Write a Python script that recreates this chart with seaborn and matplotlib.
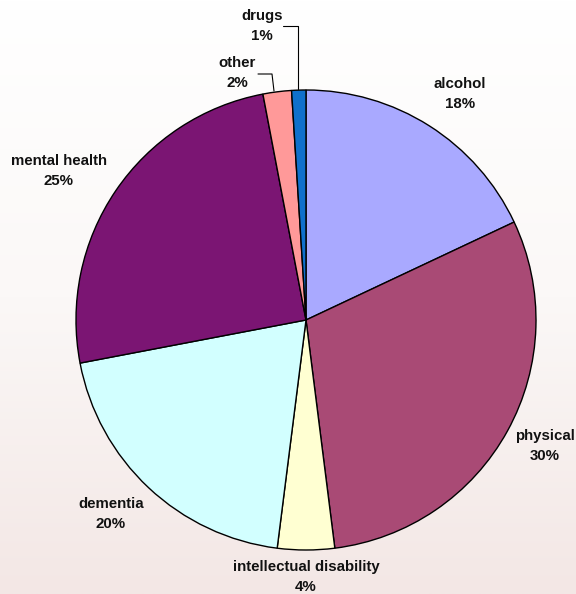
import numpy as np
import matplotlib
matplotlib.use("Agg")
import matplotlib.pyplot as plt
import seaborn as sns
from matplotlib.colors import LinearSegmentedColormap

categories = ["alcohol", "physical", "intellectual disability", "dementia",
              "mental health", "other", "drugs"]
values = [18, 30, 4, 20, 25, 2, 1]
colors = ["#A9A9FF", "#A94A75", "#FFFFD2", "#D2FFFF", "#7B1573", "#FF9999", "#0F70CC"]

sns.set_theme(style="white")
plt.rcParams["font.family"] = ["Liberation Sans", "DejaVu Sans"]

W, H = 576, 594
fig = plt.figure(figsize=(W / 100, H / 100), dpi=100)
ax = fig.add_axes([0, 0, 1, 1])

# background gradient
cmap = LinearSegmentedColormap.from_list("bg", ["#FFFFFF", "#FBF8F7", "#F3E7E5"])
grad = np.linspace(0, 1, 256).reshape(-1, 1)
ax.imshow(grad, extent=[0, W, 0, H], origin="upper", cmap=cmap,
          aspect="auto", zorder=0)

def py(y):
    return H - y

cx, cy, r = 306, py(320), 230
ax.pie(values, colors=colors, startangle=90, counterclock=False,
       center=(cx, cy), radius=r,
       wedgeprops=dict(edgecolor="black", linewidth=1.0), frame=True)
ax.set_xlim(0, W)
ax.set_ylim(0, H)
ax.set_aspect("equal")
ax.axis("off")

label_pos = [(460, 94), (545, 446), (306, 577), (111, 514),
             (59, 171), (237, 73), (262, 26)]
for cat, v, (x, y) in zip(categories, values, label_pos):
    ax.text(x, py(y), f"{cat}\n{v}%", ha="center", va="center",
            fontsize=10.8, fontweight="bold", color="#111111",
            linespacing=1.5, zorder=5)

# leader lines
ax.plot([258, 272, 274], [py(74), py(74), py(91)], color="black", lw=0.8, zorder=4)
ax.plot([283, 298, 298], [py(26), py(26), py(89)], color="black", lw=0.8, zorder=4)

fig.savefig("out.png", dpi=100)
